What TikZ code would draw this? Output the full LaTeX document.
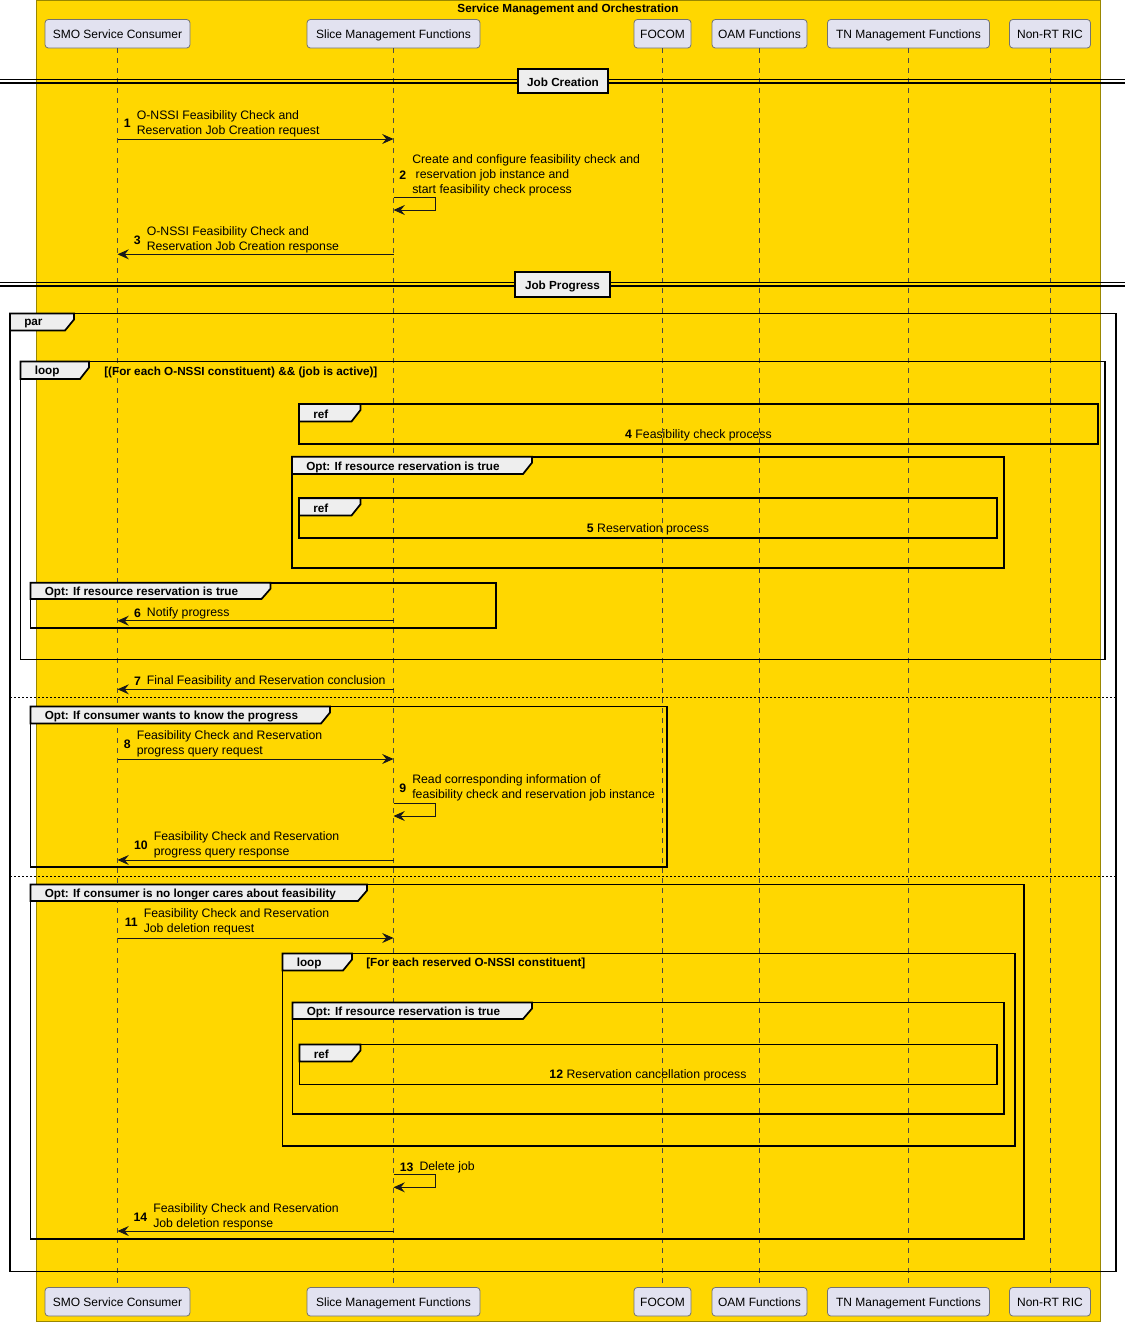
\documentclass[tikz,border=0pt]{standalone}
\usepackage{fontspec}
\setmainfont{Liberation Sans}
\usetikzlibrary{arrows.meta}
\definecolor{goldbg}{HTML}{FFD700}
\definecolor{goldline}{HTML}{9A8700}
\definecolor{partfill}{HTML}{E2E2F0}
\definecolor{tabfill}{HTML}{EEEEEE}
\definecolor{lifecol}{HTML}{4A4A4A}
\tikzset{
 part/.style={draw=black!55, line width=0.6pt, fill=partfill, rounded corners=2.5pt, inner sep=0pt, minimum height=21.4pt, text height=8.8pt, text depth=1.5pt, font=\fontsize{9}{11}\selectfont},
 lifeln/.style={draw=lifecol, line width=0.55pt, dash pattern=on 3.75pt off 3.75pt},
 frameln/.style={draw=black, line width=1.3pt},
 tabln/.style={draw=black, line width=1.3pt, fill=tabfill, line join=miter},
 tablbl/.style={font=\bfseries\fontsize{8.8}{10}\selectfont, inner sep=0pt, anchor=west, yshift=-0.9pt},
 condlbl/.style={font=\bfseries\fontsize{8.8}{10}\selectfont, inner sep=0pt, anchor=west, yshift=-0.9pt},
 msg/.style={draw=black!90, line width=0.75pt, -{Stealth[length=8.5pt,width=7.5pt,inset=3pt]}},
 msgtxt/.style={font=\fontsize{9.2}{11.25}\selectfont, inner sep=0pt, anchor=west, align=left, yshift=-1.2pt},
 msgnum/.style={font=\bfseries\fontsize{9.2}{11.25}\selectfont, inner sep=0pt, anchor=east, yshift=-1.2pt},
 reftxt/.style={font=\fontsize{9.2}{11.25}\selectfont, inner sep=0pt, yshift=-1.2pt},
 divbox/.style={draw=black, line width=1.5pt, fill=tabfill, inner sep=0pt, text height=8.6pt, text depth=1.4pt, font=\bfseries\fontsize{8.8}{10}\selectfont},
 divln/.style={draw=black, line width=0.8pt},
 sepln/.style={draw=black, line width=0.6pt, dash pattern=on 1.5pt off 1.5pt},
 titletxt/.style={font=\bfseries\fontsize{8.8}{10}\selectfont, inner sep=0pt},
}
\newcommand\sdframe[8]{%
 \draw[frameln] (#2,#3) rectangle (#4,#5);
 \draw[tabln] (#2,#3) -- (#6,#3) -- (#6,{#3+6}) -- ({#6-9},#7) -- (#2,#7) -- cycle;
 \node[tablbl] (#1) at ({#2+14},{(#3+#7)/2+0.5}) {#8};
}
\newcommand\msglbl[5]{%
 \node[msgtxt] (#1) at (#2,#3) {#5};
 \node[msgnum] (#1n) at ({#2-5.5},#3) {#4};
}
\begin{document}
\begin{tikzpicture}[x=0.75pt,y=-0.75pt]
\useasboundingbox (0,0) rectangle (1125,1322);
\fill[white] (0,0) rectangle (1125,1322);
% box
\draw[fill=goldbg, draw=goldline, line width=0.75pt] (36,0.5) rectangle (1100.5,1321.5);
\node[titletxt] (title) at (568,9) {Service Management and Orchestration};
% participants
\node[part, minimum width=108.75pt] (p1) at (117.5,33.75) {SMO Service Consumer};
\node[part, minimum width=129.75pt] (p2) at (393.5,33.75) {Slice Management Functions};
\node[part, minimum width=42.75pt] (p3) at (662.5,33.75) {FOCOM};
\node[part, minimum width=71.25pt] (p4) at (759.5,33.75) {OAM Functions};
\node[part, minimum width=121.5pt] (p5) at (908.5,33.75) {TN Management Functions};
\node[part, minimum width=60.75pt] (p6) at (1050,33.75) {Non-RT RIC};
\node[part, minimum width=108.75pt] (q1) at (117.5,1301.75) {SMO Service Consumer};
\node[part, minimum width=129.75pt] (q2) at (393.5,1301.75) {Slice Management Functions};
\node[part, minimum width=42.75pt] (q3) at (662.5,1301.75) {FOCOM};
\node[part, minimum width=71.25pt] (q4) at (759.5,1301.75) {OAM Functions};
\node[part, minimum width=121.5pt] (q5) at (908.5,1301.75) {TN Management Functions};
\node[part, minimum width=60.75pt] (q6) at (1050,1301.75) {Non-RT RIC};
\foreach \i in {1,...,6}{\draw[lifeln] (p\i.south) -- (q\i.north);}
% dividers
\draw[divln] (0,79.5) -- (1125,79.5);
\draw[divln] (0,83) -- (1125,83);
\node[divbox, minimum width=67.5pt, minimum height=18pt] (jc) at (563,81.2) {Job Creation};
\draw[divln] (0,282.5) -- (1125,282.5);
\draw[divln] (0,286) -- (1125,286);
\node[divbox, minimum width=71.25pt, minimum height=18.75pt] (jp) at (562.5,284.2) {Job Progress};
% frames
\sdframe{fpar}{10}{313.5}{1116}{1271.5}{74}{330.5}{par}
\sdframe{floop}{20.5}{361.5}{1105}{659.5}{89}{379}{loop}
\node[condlbl] (cond1) at (104,371.7) {[(For each O-NSSI constituent) \&\& (job is active)]};
\sdframe{fref1}{299}{404}{1098}{444.3}{360.5}{421.5}{ref}
\node[reftxt] (r4) at (698.5,433.5) {\textbf{4} Feasibility check process};
\sdframe{fopt1}{292}{456.7}{1004}{568.3}{532}{474}{Opt: If resource reservation is true}
\sdframe{fref2}{299}{498.3}{997}{538.3}{360.5}{515.5}{ref}
\node[reftxt] (r5) at (648,527.5) {\textbf{5} Reservation process};
\sdframe{fopt2}{30.5}{582.7}{496}{628.3}{270.5}{599}{Opt: If resource reservation is true}
\draw[sepln] (10,697.7) -- (1116,697.7);
\sdframe{fopt3}{30.5}{706.5}{667}{867}{330}{723.5}{Opt: If consumer wants to know the progress}
\draw[sepln] (10,876) -- (1116,876);
\sdframe{fopt4}{30.5}{884.5}{1024}{1239.3}{367}{901}{Opt: If consumer is no longer cares about feasibility}
\sdframe{floop2}{282.5}{953.5}{1015}{1146}{352}{970.5}{loop}
\node[condlbl] (cond2) at (366,962.5) {[For each reserved O-NSSI constituent]};
\sdframe{fopt5}{292.5}{1002.5}{1004}{1114}{532}{1019}{Opt: If resource reservation is true}
\sdframe{fref3}{299.5}{1044.5}{997}{1084.5}{360.5}{1061.5}{ref}
\node[reftxt] (r12) at (648,1073.7) {\textbf{12} Reservation cancellation process};
% messages
\coordinate (a1) at (117.5,139); \coordinate (b1) at (393.5,139);
\draw[msg] (a1) -- (b1);
\msglbl{t1}{136.5}{122}{1}{O-NSSI Feasibility Check and\\Reservation Job Creation request}
\coordinate (a2) at (393.5,197.3); \coordinate (c2) at (435.5,197.3); \coordinate (d2) at (435.5,210); \coordinate (b2) at (393.5,210);
\draw[msg] (a2) -- (c2) -- (d2) -- (b2);
\msglbl{t2}{412}{174}{2}{Create and configure feasibility check and\\\hspace*{2.6pt}reservation job instance and\\start feasibility check process}
\coordinate (a3) at (393.5,254.3); \coordinate (b3) at (117.5,254.3);
\draw[msg] (a3) -- (b3);
\msglbl{t3}{146.5}{238.5}{3}{O-NSSI Feasibility Check and\\Reservation Job Creation response}
\coordinate (a6) at (393.5,620.7); \coordinate (b6) at (117.5,620.7);
\draw[msg] (a6) -- (b6);
\msglbl{t6}{146.7}{611.7}{6}{Notify progress}
\coordinate (a7) at (393.5,689.3); \coordinate (b7) at (117.5,689.3);
\draw[msg] (a7) -- (b7);
\msglbl{t7}{146.7}{679.3}{7}{Final Feasibility and Reservation conclusion}
\coordinate (a8) at (117.5,759); \coordinate (b8) at (393.5,759);
\draw[msg] (a8) -- (b8);
\msglbl{t8}{136.5}{742.5}{8}{Feasibility Check and Reservation\\progress query request}
\coordinate (a9) at (393.5,803); \coordinate (c9) at (435.5,803); \coordinate (d9) at (435.5,816); \coordinate (b9) at (393.5,816);
\draw[msg] (a9) -- (c9) -- (d9) -- (b9);
\msglbl{t9}{412}{786.5}{9}{Read corresponding information of\\feasibility check and reservation job instance}
\coordinate (a10) at (393.5,860); \coordinate (b10) at (117.5,860);
\draw[msg] (a10) -- (b10);
\msglbl{t10}{153.5}{843.5}{10}{Feasibility Check and Reservation\\progress query response}
\coordinate (a11) at (117.5,938); \coordinate (b11) at (393.5,938);
\draw[msg] (a11) -- (b11);
\msglbl{t11}{143.5}{920.5}{11}{Feasibility Check and Reservation\\Job deletion request}
\coordinate (a13) at (393.5,1174.3); \coordinate (c13) at (435.3,1174.3); \coordinate (d13) at (435.3,1187.3); \coordinate (b13) at (393.5,1187.3);
\draw[msg] (a13) -- (c13) -- (d13) -- (b13);
\msglbl{t13}{419.3}{1165.7}{13}{Delete job}
\coordinate (a14) at (393.5,1231); \coordinate (b14) at (117.5,1231);
\draw[msg] (a14) -- (b14);
\msglbl{t14}{153}{1215.2}{14}{Feasibility Check and Reservation\\Job deletion response}
\end{tikzpicture}
\end{document}
